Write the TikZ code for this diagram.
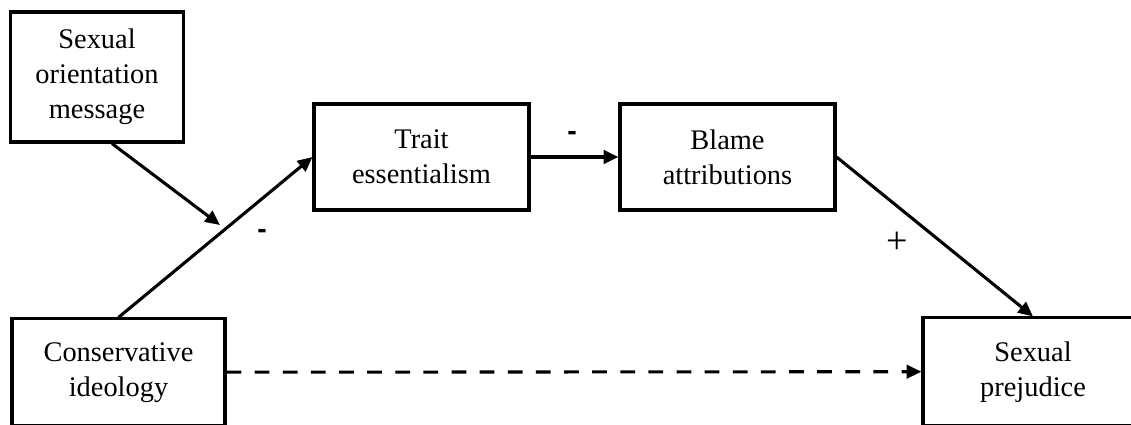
\documentclass[tikz,border=0pt]{standalone}
\usepackage{fontspec}
\setmainfont{Liberation Serif}
\newfontfamily\signfont{Liberation Sans}
\usetikzlibrary{arrows.meta}
\begin{document}
\begin{tikzpicture}[x=0.025cm, y=-0.025cm,
        every node/.style={font=\fontsize{20.2}{24.9}\selectfont},
        box/.style={draw, line width=2.2pt, align=center, inner sep=0pt},
        path/.style={line width=2.2pt, -{Triangle[length=10.5pt, width=9.5pt]}},
        sign/.style={font=\signfont\bfseries\fontsize{20.2}{24.9}\selectfont}]
        \def \u {0.025cm}
        \useasboundingbox (0, 0) rectangle (1131, 425);
        \clip (0, 0) rectangle (1131, 425);
        \node[box, minimum width=173*\u, minimum height=130*\u] (msg) at (97, 77) {Sexual\\orientation\\message};
        \node[box, minimum width=215*\u, minimum height=106*\u] (trait) at (421.5, 157) {Trait\\essentialism};
        \node[box, minimum width=215*\u, minimum height=106*\u] (blame) at (727.5, 157) {Blame\\attributions};
        \node[box, minimum width=213*\u, minimum height=106.5*\u] (cons) at (118.5, 372.2) {Conservative\\ideology};
        \node[box, minimum width=220*\u, minimum height=107.5*\u] (prej) at (1033, 371.7) {Sexual\\prejudice};
        \coordinate (mod) at (220, 225);
        \draw[path] (cons.north) -- (trait.west);
        \draw[path] (msg.south) ++(15, 0) -- (mod);
        \draw[path] (trait.east) -- (blame.west);
        \draw[path] (blame.east) -- (prej.north);
        \draw[path, dash pattern=on 10.5pt off 9.5pt] (cons.east) -- (prej.west);
        \node[sign] (s1) at (262, 234) {-};
        \node[sign] (s2) at (572, 136) {-};
        \node[font=\fontsize{27}{30}\selectfont] (s3) at (897, 243) {+};
\end{tikzpicture}
\end{document}
